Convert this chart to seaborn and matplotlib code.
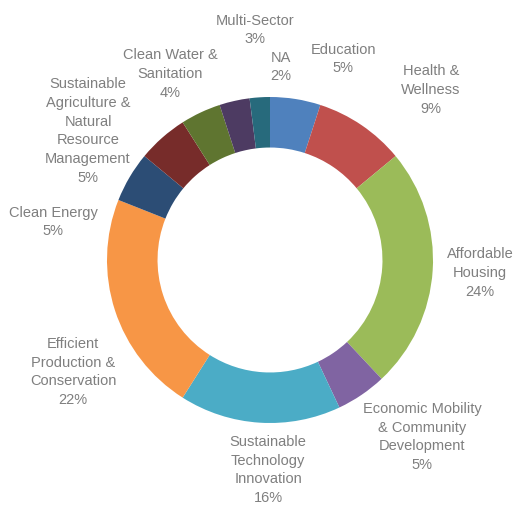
import matplotlib
matplotlib.use("Agg")
import matplotlib.pyplot as plt
import seaborn as sns

sns.set_theme(style="white")
plt.rcParams["font.family"] = ["Liberation Sans", "DejaVu Sans"]

# data, clockwise from 12 o'clock
sectors = ["Education", "Health &\nWellness", "Affordable\nHousing",
           "Economic Mobility\n& Community\nDevelopment",
           "Sustainable\nTechnology\nInnovation",
           "Efficient\nProduction &\nConservation", "Clean Energy",
           "Sustainable\nAgriculture &\nNatural\nResource\nManagement",
           "Clean Water &\nSanitation", "Multi-Sector", "NA"]
shares = [5, 9, 24, 5, 16, 22, 5, 5, 4, 3, 2]
colors = ["#4F81BD", "#C0504D", "#9BBB59", "#8064A2", "#4BACC6", "#F79646",
          "#2C4D75", "#772C2A", "#5F7530", "#4D3B62", "#276A7C"]

# label centres in pixel coords (top-left origin)
label_pos = [(343, 59), (431, 90), (480, 273), (422, 437), (268, 470),
             (73, 372), (53, 222), (88, 131), (170, 74), (255, 30), (281, 67)]

W, H = 517, 508
fig = plt.figure(figsize=(W / 100, H / 100), dpi=100)
ax = fig.add_axes([0, 0, 1, 1])

cx, cy, R = 270, 260, 163
ax.pie(shares, colors=colors, startangle=90, counterclock=False,
       center=(cx, H - cy), radius=R,
       wedgeprops=dict(width=R * 0.31, linewidth=0))

for name, val, (x, y) in zip(sectors, shares, label_pos):
    ax.text(x, H - y, f"{name}\n{val}%", ha="center", va="center",
            fontsize=10.5, color="#7F7F7F", linespacing=1.42)

ax.set_xlim(0, W)
ax.set_ylim(0, H)
ax.set_aspect("equal")
ax.axis("off")

plt.savefig("out.png", dpi=100, facecolor="white")
